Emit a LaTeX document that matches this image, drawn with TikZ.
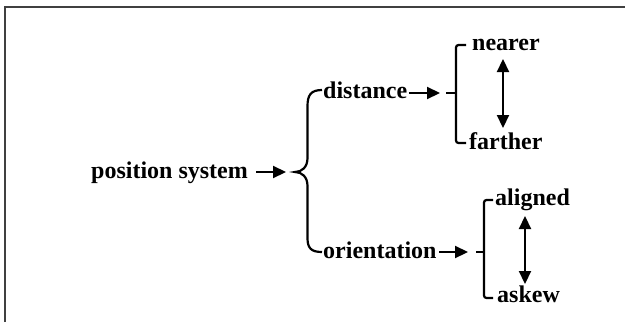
\documentclass[tikz,border=0pt]{standalone}
\usepackage{fontspec}
\setmainfont{Liberation Serif}
\usetikzlibrary{arrows.meta}
\begin{document}
\begin{tikzpicture}[x=1pt,y=-1pt,
 lbl/.style={anchor=base west,inner sep=0pt,font=\fontsize{24}{28}\selectfont\bfseries},
 tipstyle/.style={},
 arr/.style={line width=2.2pt,-{Triangle[length=13pt,width=12pt]}},
 darr/.style={line width=2.2pt,{Triangle[length=13pt,width=12pt]}-{Triangle[length=13pt,width=12pt]}},
 brk/.style={line width=2.2pt,rounded corners=2.5pt}]
\useasboundingbox (0,0) rectangle (625,322);
\draw[line width=2pt,draw=black!75] (5,322) -- (5,7) -- (625,7);
% labels
\node[lbl] (ps) at (91,178) {position system};
\node[lbl] (dist) at (323,98) {distance};
\node[lbl] (orient) at (323,258) {orientation};
\node[lbl] (near) at (472,50) {nearer};
\node[lbl] (far) at (469,149) {farther};
\node[lbl] (alig) at (495,205) {aligned};
\node[lbl] (askew) at (497,302) {askew};
% connector coordinates
\coordinate (tip) at (295,172);
\coordinate (b1) at (446,93);
\coordinate (b2) at (476,252);
\coordinate (d1a) at (503,59);
\coordinate (d1b) at (503,128);
\coordinate (d2a) at (525,216);
\coordinate (d2b) at (525,284);
% brace
\draw[line width=2.2pt] (322,90) .. controls (311,90) and (307.5,95) .. (307.5,106) -- (307.5,158)
  .. controls (307.5,167) and (302,172) .. (tip)
  .. controls (302,172) and (307.5,177) .. (307.5,186) -- (307.5,238)
  .. controls (307.5,248) and (311,252) .. (322,252);
% arrows
\draw[arr] ([xshift=8pt]ps.east |- tip) -- ([xshift=-9pt]tip);
\draw[arr] ([xshift=1.5pt]dist.east |- b1) -- ([xshift=-6pt]b1);
\draw[arr] ([xshift=2.5pt]orient.east |- b2) -- ([xshift=-8pt]b2);
% brackets
\draw[line width=2.2pt] (b1) -- (456,93);
\draw[brk] (466,45) -- (456,45) -- (456,143) -- (466,143);
\draw[line width=2.2pt] (b2) -- (484,252);
\draw[brk] (493,200) -- (484,200) -- (484,298) -- (493,298);
% double arrows
\draw[darr] (d1a) -- (d1b);
\draw[darr] (d2a) -- (d2b);
\end{tikzpicture}
\end{document}
